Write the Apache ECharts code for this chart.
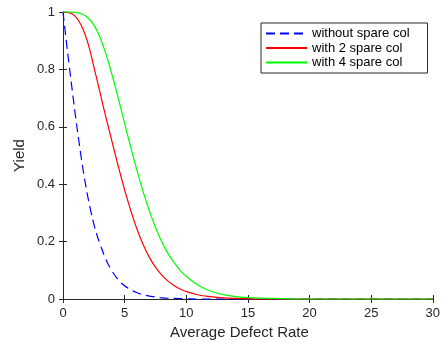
<!DOCTYPE html>
<html>
<head>
<meta charset="utf-8">
<script src="https://cdn.jsdelivr.net/npm/echarts@6/dist/echarts.min.js"></script>
<style>
  html, body { margin: 0; padding: 0; background: #fff; }
  #chart { width: 443px; height: 345px; }
</style>
</head>
<body>
<div id="chart"></div>
<script>
// values
const seriesNames = ['without spare col', 'with 2 spare col', 'with 4 spare col'];

const blueX = [0, 0.25, 0.5, 0.75, 1, 1.25, 1.5, 1.75, 2, 2.25, 2.5, 2.75, 3, 3.5, 4, 4.5, 5, 5.5, 6, 6.5, 7, 7.5, 8, 9, 10, 11, 15, 20, 25, 30];
const blueY = [1, 0.905, 0.815, 0.727, 0.642, 0.562, 0.487, 0.419, 0.359, 0.307, 0.262, 0.224, 0.192, 0.136, 0.096, 0.066, 0.046, 0.032, 0.022, 0.015, 0.01, 0.007, 0.004, 0.002, 0.001, 0, 0, 0, 0, 0];

const redX = [0, 0.5, 1, 1.5, 2, 2.5, 3, 3.5, 4, 4.5, 5, 5.5, 6, 6.5, 7, 7.5, 8, 8.5, 9, 9.5, 10, 11, 12, 13, 14, 15, 16, 17, 20, 25, 30];
const redY = [1, 0.998, 0.985, 0.952, 0.895, 0.81, 0.72, 0.63, 0.545, 0.46, 0.38, 0.308, 0.244, 0.19, 0.146, 0.111, 0.084, 0.063, 0.047, 0.035, 0.026, 0.014, 0.008, 0.004, 0.002, 0.001, 0, 0, 0, 0, 0];

const greenX = [0, 0.5, 1, 1.5, 2, 2.5, 3, 3.5, 4, 4.5, 5, 5.5, 6, 6.5, 7, 7.5, 8, 8.5, 9, 9.5, 10, 11, 12, 13, 14, 15, 16, 17, 18, 19, 20, 25, 30];
const greenY = [1, 1, 0.999, 0.994, 0.981, 0.955, 0.912, 0.851, 0.778, 0.697, 0.612, 0.528, 0.448, 0.374, 0.308, 0.25, 0.2, 0.16, 0.128, 0.1, 0.079, 0.047, 0.027, 0.015, 0.008, 0.005, 0.003, 0.002, 0.001, 0, 0, 0, 0];

const pairs = (xs, ys) => xs.map((x, i) => [x, ys[i]]);

const chart = echarts.init(document.getElementById('chart'));
const axisColor = '#262626';
const font = 'Liberation Sans, Arial, Helvetica, sans-serif';

const boxAxis = {
    axisLine: { show: true, lineStyle: { color: axisColor, width: 1 } },
    axisTick: { show: true, inside: true, length: 4, lineStyle: { color: axisColor } },
    splitLine: { show: false },
};

const lineSeries = (name, xs, ys, color, dash) => ({
    name: name,
    type: 'line',
    data: pairs(xs, ys),
    symbol: 'circle',
    showSymbol: false,
    smooth: 0.4,
    clip: false,
    lineStyle: { color: color, width: 1.2, type: dash || 'solid' },
    itemStyle: { color: color },
});

const option = {
    animation: false,
    grid: { left: 63, right: 9, top: 12, bottom: 45 },
    legend: {
        orient: 'vertical',
        left: 261,
        top: 23,
        data: seriesNames,
        itemWidth: 41,
        itemHeight: 14,
        itemGap: 1.5,
        padding: [4, 18, 4, 4],
        backgroundColor: '#fff',
        borderColor: axisColor,
        borderWidth: 1,
        borderRadius: 0,
        itemStyle: { opacity: 0 },
        textStyle: { fontFamily: font, fontSize: 13, color: '#000' },
    },
    xAxis: [
        {
            ...boxAxis,
            type: 'value',
            min: 0,
            max: 30,
            interval: 5,
            name: 'Average Defect Rate',
            nameLocation: 'middle',
            nameGap: 26,
            nameMoveOverlap: false,
            nameTextStyle: { fontFamily: font, fontSize: 15, color: axisColor, padding: [0, 17, 0, 0] },
            axisLabel: { fontFamily: font, fontSize: 13, color: axisColor, margin: 8 },
        },
        {
            ...boxAxis,
            type: 'value',
            position: 'top',
            min: 0,
            max: 30,
            interval: 5,
            axisLabel: { show: false },
        },
    ],
    yAxis: [
        {
            ...boxAxis,
            type: 'value',
            min: 0,
            max: 1,
            interval: 0.2,
            name: 'Yield',
            nameLocation: 'middle',
            nameGap: 36,
            nameMoveOverlap: false,
            nameRotate: 90,
            nameTextStyle: { fontFamily: font, fontSize: 15, color: axisColor },
            axisLabel: { fontFamily: font, fontSize: 13, color: axisColor, margin: 8 },
        },
        {
            ...boxAxis,
            type: 'value',
            position: 'right',
            min: 0,
            max: 1,
            interval: 0.2,
            axisLabel: { show: false },
        },
    ],
    series: [
        lineSeries(seriesNames[0], blueX, blueY, '#0000ff', [9, 5]),
        lineSeries(seriesNames[1], redX, redY, '#ff0000'),
        lineSeries(seriesNames[2], greenX, greenY, '#00ff00'),
    ],
};

chart.setOption(option);
window.addEventListener('resize', () => chart.resize());
</script>
</body>
</html>
